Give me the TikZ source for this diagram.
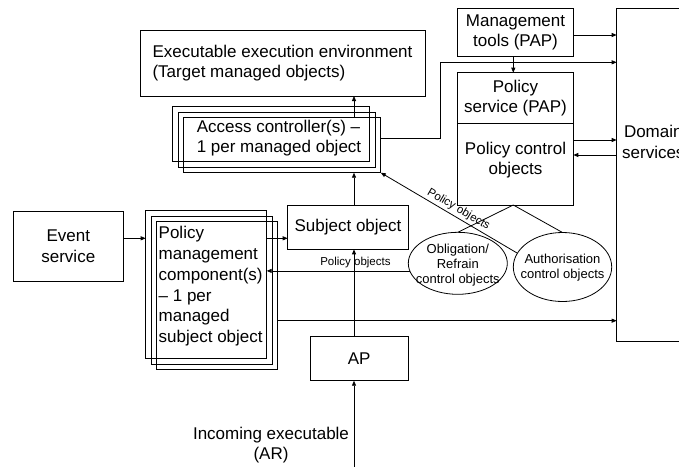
\documentclass[tikz,border=0pt]{standalone}
\usepackage{fontspec}
\setmainfont{Liberation Sans}
\usetikzlibrary{arrows.meta,shapes.geometric}

\begin{document}
\begin{tikzpicture}[x=1pt,y=-1pt, line width=0.8pt,
  box/.style={draw, rectangle, inner sep=0pt, outer sep=0pt},
  big/.style={font=\fontsize{17}{20.7}\selectfont},
  mid/.style={font=\fontsize{13}{15}\selectfont},
  small/.style={font=\fontsize{11.5}{13}\selectfont},
  oval/.style={draw, ellipse, inner sep=0pt, outer sep=0pt},
  arr/.style={-{Triangle[length=5pt,width=4pt]}},
]
\useasboundingbox (0,0) rectangle (679,466);
\clip (0,0) rectangle (679,466);

% helper columns and levels
\coordinate (col)  at (354,0);
\coordinate (colB) at (513.3,0);
\coordinate (kink) at (440,62.3);
\coordinate (lvAC) at (0,138);
\coordinate (lvMT) at (0,35);
\coordinate (lvPo) at (0,140);
\coordinate (lvPi) at (0,155);
\coordinate (lvEv) at (0,238.3);
\coordinate (lvPm) at (0,320.7);
\coordinate (inc)  at (354,470);

% boxes
\node[box, big, align=left, minimum width=285pt, minimum height=66pt] (env) at (282.5,63)
  {Executable execution environment\\(Target managed objects)};

\node[box, minimum width=197pt, minimum height=55pt] (ac1) at (271.3,134.2) {};
\node[box, minimum width=197pt, minimum height=55pt] (ac2) at (276.8,139.7) {};
\node[box, minimum width=197pt, minimum height=55pt] (ac)  at (282.3,145.2) {};
\node[big, align=left, inner sep=0pt] (actext) at (279,138)
  {Access controller(s) –\\1 per managed object};

\node[box, big, align=center, minimum width=115.6pt, minimum height=48.4pt] (mt) at (515.5,32.5)
  {Management\\tools (PAP)};
\node[box, big, align=center, minimum width=115.6pt, minimum height=50.6pt] (ps) at (515.5,98)
  {Policy\\service (PAP)};
\node[box, minimum width=115.6pt, minimum height=81.7pt] (pc) at (515.5,164.15) {};
\node[big, align=center, inner sep=0pt] (pctext) at (515.5,160) {Policy control\\objects};

\node[box, minimum width=73.3pt, minimum height=333.4pt] (dom) at (653.35,175) {};
\node[big, align=center, inner sep=0pt] (domtext) at (653.3,142) {Domain\\services};

\node[box, big, align=center, minimum width=110pt, minimum height=70.7pt] (ev) at (68.3,246.3)
  {Event\\service};

\node[box, minimum width=121pt, minimum height=148pt] (pm1) at (206.2,284.8) {};
\node[box, minimum width=121pt, minimum height=148pt] (pm2) at (211.7,290.3) {};
\node[box, minimum width=121pt, minimum height=148pt] (pm3) at (217.2,295.8) {};
\node[big, align=left, inner sep=0pt, anchor=north west] (pmtext) at (158.3,226.2)
  {Policy\\management\\component(s)\\– 1 per\\managed\\subject object};

\node[box, big, minimum width=120.6pt, minimum height=44.3pt] (so) at (348,227.2) {Subject object};
\node[box, big, minimum width=98.3pt, minimum height=44pt] (ap) at (359.2,358.7) {AP};

\node[oval, minimum width=99pt, minimum height=62pt] (ob) at (457.8,263.3) {};
\node[mid, align=center, inner sep=0pt] (obtext) at (457.8,265)
  {Obligation/\\Refrain\\control objects};
\node[oval, minimum width=98.4pt, minimum height=69pt] (au) at (562.5,267) {};
\node[mid, align=center, inner sep=0pt] (autext) at (562.5,268)
  {Authorisation\\control objects};

\node[big, align=center, inner sep=0pt] (inctext) at (271,445) {Incoming executable\\(AR)};

% connectors
\draw[arr] (ac.north -| col) -- (env.south -| col);
\draw[arr] (so.north -| col) -- (ac.south -| col);
\draw[arr] (ap.north -| col) -- (so.south -| col);
\draw[arr] (inc) -- (ap.south -| col);

\draw[arr] (ac.east |- lvAC) -| (kink) -- (kink -| dom.west);
\draw[arr] (mt.east |- lvMT) -- (dom.west |- lvMT);
\draw[arr] (mt.south -| colB) -- (ps.north -| colB);
\draw[arr] (pc.east |- lvPo) -- (dom.west |- lvPo);
\draw[arr] (dom.west |- lvPi) -- (pc.east |- lvPi);

\draw (pc.south -| colB) -- (ob.north);
\draw (pc.south -| colB) -- (au.north);

\draw[arr] (au.163) -- node[pos=0.46, sloped, above, small, inner sep=2pt] {Policy objects} (ac.south east);
\draw[arr] (ob.189) -- node[pos=0.38, above, small, inner sep=2.5pt] {Policy objects} (ob.189 -| pm1.east);

\draw[arr] (ev.east |- lvEv) -- (pm1.west |- lvEv);
\draw[arr] (pm1.east |- lvEv) -- (so.west |- lvEv);
\draw[arr] (pm3.east |- lvPm) -- (dom.west |- lvPm);
\end{tikzpicture}
\end{document}
